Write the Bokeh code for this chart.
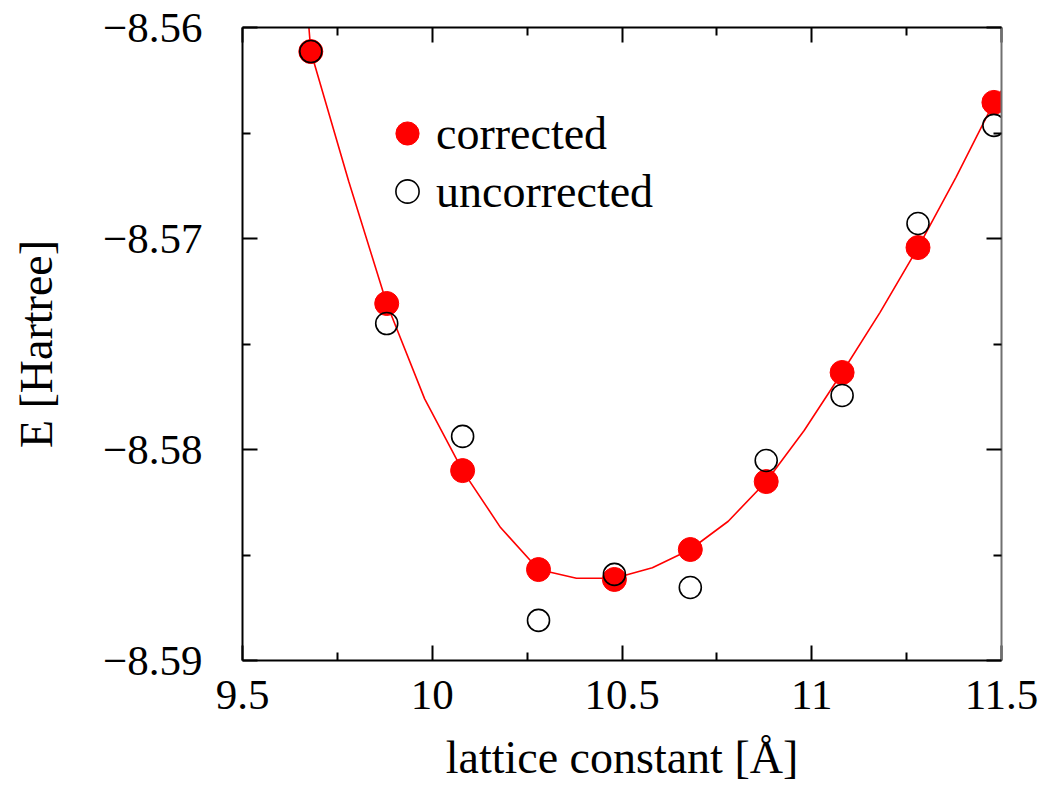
from bokeh.plotting import figure
from bokeh.models import (LinearAxis, FixedTicker, CustomJSTickFormatter, Legend,
                          LegendItem, ColumnDataSource, Range1d)
from bokeh.embed import file_html
from bokeh.resources import INLINE

# ---- data ----
lattice = [9.68, 9.88, 10.08, 10.28, 10.48, 10.68, 10.88, 11.08, 11.28, 11.48]
corrected = [-8.56114, -8.57308, -8.58100, -8.58569, -8.58616, -8.58474,
             -8.58152, -8.57635, -8.57043, -8.56355]
uncorrected = [-8.56114, -8.57403, -8.57938, -8.58810, -8.58592, -8.58654,
               -8.58052, -8.57744, -8.56929, -8.56464]

# fitted curve
curve_x = [9.675, 9.68, 9.78, 9.88, 9.98, 10.08, 10.18, 10.28, 10.38, 10.48,
           10.58, 10.68, 10.78, 10.88, 10.98, 11.08, 11.18, 11.28, 11.38, 11.48, 11.5]
curve_y = [-8.5600, -8.56114, -8.5673, -8.57308, -8.5776, -8.58100, -8.5837,
           -8.58569, -8.5861, -8.58610, -8.5856, -8.58474, -8.5834, -8.58152,
           -8.5791, -8.57635, -8.5735, -8.57043, -8.5671, -8.56355, -8.5630]

x_ticks = [9.5, 10.0, 10.5, 11.0, 11.5]
x_minor = [9.75, 10.25, 10.75, 11.25]
y_ticks = [-8.59, -8.58, -8.57, -8.56]
y_minor = [-8.585, -8.575, -8.565]
x_label = "lattice constant [Å]"
y_label = "E [Hartree]"
series_names = ["corrected", "uncorrected"]

FONT = "Liberation Serif"
TICK_FS = "43px"
LABEL_FS = "46px"

p = figure(width=1055, height=786, output_backend="svg", toolbar_location=None,
           x_range=Range1d(9.5, 11.5), y_range=Range1d(-8.59, -8.56),
           x_axis_type=None, y_axis_type=None,
           min_border_left=242, min_border_right=54, min_border_top=27,
           min_border_bottom=126)
p.background_fill_color = "white"
p.border_fill_color = "white"
p.outline_line_color = None
p.xgrid.visible = False
p.ygrid.visible = False


def style_axis(ax, labels=True, color="black"):
    ax.axis_line_color = color
    ax.axis_line_width = 2
    ax.major_tick_in = 15
    ax.major_tick_out = 0
    ax.minor_tick_in = 8
    ax.minor_tick_out = 0
    ax.major_tick_line_color = "black"
    ax.minor_tick_line_color = "black"
    ax.major_tick_line_width = 2
    ax.minor_tick_line_width = 2
    if labels:
        ax.major_label_text_font = FONT
        ax.major_label_text_font_size = TICK_FS
        ax.major_label_text_color = "black"
        ax.axis_label_text_font = FONT
        ax.axis_label_text_font_size = LABEL_FS
        ax.axis_label_text_font_style = "normal"
        ax.axis_label_text_color = "black"
    else:
        ax.major_label_standoff = 0
        ax.axis_label = None


xt = FixedTicker(ticks=x_ticks, minor_ticks=x_minor)
yt = FixedTicker(ticks=y_ticks, minor_ticks=y_minor)

xfmt = CustomJSTickFormatter(code="return (Math.round(tick*10)%10==0) ? tick.toFixed(0) : tick.toFixed(1);")
yfmt = CustomJSTickFormatter(code="return (tick<0 ? '\\u2212' : '') + Math.abs(tick).toFixed(2);")
blank = CustomJSTickFormatter(code="return '';")

xb = LinearAxis(ticker=xt, formatter=xfmt, axis_label=x_label)
style_axis(xb)
xb.major_label_standoff = 20
xb.axis_label_standoff = 20
p.add_layout(xb, "below")

yl = LinearAxis(ticker=yt, formatter=yfmt, axis_label=y_label)
style_axis(yl)
yl.major_label_standoff = 40
yl.axis_label_standoff = 38
p.add_layout(yl, "left")

xa = LinearAxis(ticker=xt, formatter=blank)
style_axis(xa, labels=False)
p.add_layout(xa, "above")

yr = LinearAxis(ticker=yt, formatter=blank)
style_axis(yr, labels=False, color="#707070")
p.add_layout(yr, "right")

p.line(curve_x, curve_y, line_color="red", line_width=1.6)

src = ColumnDataSource(dict(x=lattice, c=corrected, u=uncorrected))
r_c = p.scatter("x", "c", source=src, size=24, marker="circle",
                fill_color="red", line_color="red", line_width=1)
r_u = p.scatter("x", "u", source=src, size=22, marker="circle",
                fill_alpha=0, line_color="black", line_width=1.6)

legend = Legend(items=[LegendItem(label=series_names[0], renderers=[r_c]),
                       LegendItem(label=series_names[1], renderers=[r_u])],
                location=(136, 440), orientation="vertical")
legend.glyph_width = 58
legend.glyph_height = 58
legend.label_standoff = 0
legend.spacing = 0
legend.padding = 0
legend.margin = 0
legend.border_line_alpha = 0
legend.background_fill_alpha = 0
legend.label_text_font = FONT
legend.label_text_font_size = LABEL_FS
legend.label_text_color = "black"
legend.label_height = 58
p.add_layout(legend, "center")

open("out.html", "w").write(file_html(p, INLINE))
